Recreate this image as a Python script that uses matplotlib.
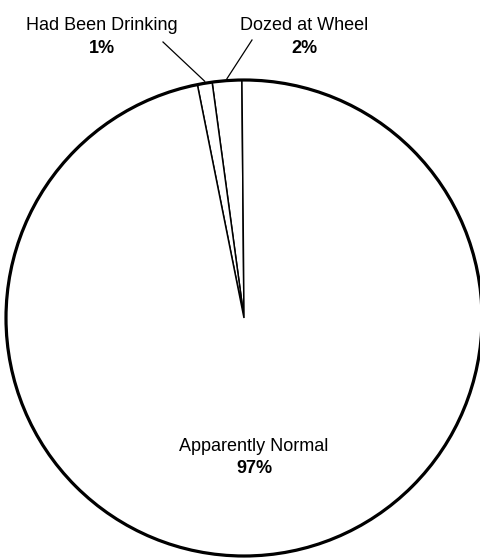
import numpy as np
import matplotlib
matplotlib.use("Agg")
import matplotlib.pyplot as plt
from matplotlib.patches import Circle

# data
labels = ["Dozed at Wheel", "Had Been Drinking", "Apparently Normal"]
shares = [2, 1, 97]
pct_text = ["2%", "1%", "97%"]

W, H = 480, 559
CENTER = (244, H - 318)
RADIUS = 238

plt.rcParams["font.family"] = ["Liberation Sans", "DejaVu Sans"]

fig = plt.figure(figsize=(W / 100, H / 100), dpi=100)
ax = fig.add_axes((0, 0, 1, 1))
ax.axis("off")

wedges, _ = ax.pie(shares, startangle=90.5, counterclock=True,
                   center=CENTER, radius=RADIUS, colors=["white"] * 3,
                   wedgeprops=dict(edgecolor="black", linewidth=1.1))
# heavier outer rim
ax.add_patch(Circle(CENTER, RADIUS, fill=False, edgecolor="black", linewidth=2.3))
ax.set_xlim(0, W)
ax.set_ylim(0, H)
ax.set_aspect("auto")

# label centres (x) and baselines for the two thin slices, pixel coords
text_x = {0: 304, 1: 102}
lead_start = {0: (252, H - 40), 1: (163, H - 42)}

for i in (0, 1):
    w = wedges[i]
    mid = np.deg2rad((w.theta1 + w.theta2) / 2)
    tip = (CENTER[0] + RADIUS * np.cos(mid), CENTER[1] + RADIUS * np.sin(mid) + 2)
    ax.plot([lead_start[i][0], tip[0]], [lead_start[i][1], tip[1]],
            color="black", lw=0.9)
    ax.text(text_x[i], H - 30, labels[i], ha="center", va="baseline", fontsize=13)
    ax.text(text_x[i], H - 53, pct_text[i], ha="center", va="baseline", fontsize=13,
            fontweight="bold")

ax.text(254, H - 451, labels[2], ha="center", va="baseline", fontsize=13)
ax.text(254, H - 473, pct_text[2], ha="center", va="baseline", fontsize=13,
        fontweight="bold")

fig.savefig("out.png", dpi=100)
